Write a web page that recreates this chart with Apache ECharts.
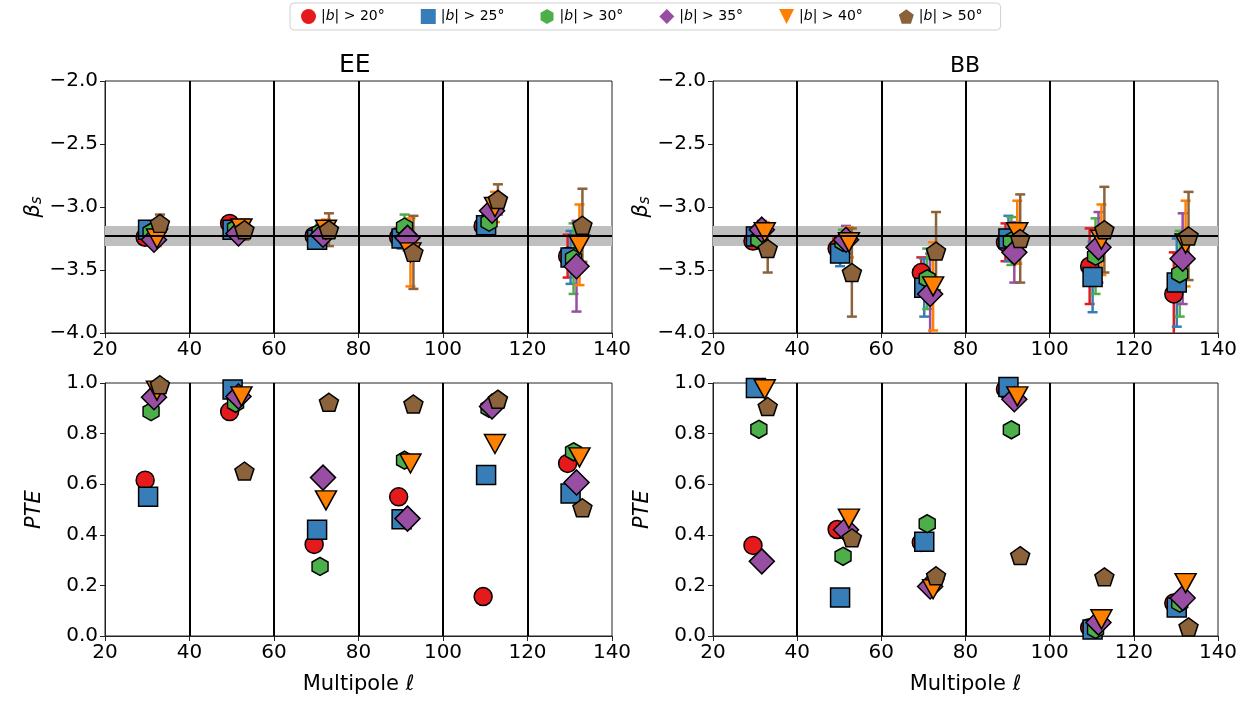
<!DOCTYPE html>
<html>
<head>
<meta charset="utf-8">
<title>beta_s and PTE per multipole bin</title>
<script src="https://cdn.jsdelivr.net/npm/echarts@6/dist/echarts.min.js"></script>
<style>
  html, body { margin: 0; padding: 0; background: #fff; }
  #chart { width: 1252px; height: 702px; }
</style>
</head>
<body>
<div id="chart"></div>
<script>
// latitude cuts, one series each
var cutNames = ['|b| > 20°', '|b| > 25°', '|b| > 30°', '|b| > 35°', '|b| > 40°', '|b| > 50°'];

// multipole bins and the small shift of each cut inside a bin
var ellBins = [29.5, 49.5, 69.5, 89.5, 109.5, 129.5];
var ellShift = [0, 0.7, 1.4, 2.1, 2.8, 3.5];
var binEdges = [40, 60, 80, 100, 120];

// reference spectral index and its band
var betaRef = -3.23;
var betaBand = [-3.31, -3.15];

// EE: beta_s (rows = cuts, columns = bins)
var betaEE = [
  [-3.24, -3.13, -3.23, -3.24, -3.15, -3.39],
  [-3.18, -3.18, -3.26, -3.25, -3.145, -3.40],
  [-3.20, -3.17, -3.20, -3.16, -3.12, -3.41],
  [-3.26, -3.21, -3.22, -3.245, -3.03, -3.47],
  [-3.25, -3.17, -3.18, -3.36, -3.00, -3.30],
  [-3.13, -3.18, -3.18, -3.36, -2.94, -3.145]
];
var betaEEerr = [
  [0.04, 0.04, 0.05, 0.07, 0.07, 0.17],
  [0.04, 0.04, 0.05, 0.08, 0.08, 0.21],
  [0.05, 0.05, 0.06, 0.10, 0.08, 0.28],
  [0.05, 0.05, 0.07, 0.10, 0.10, 0.36],
  [0.06, 0.06, 0.08, 0.27, 0.12, 0.32],
  [0.07, 0.08, 0.13, 0.29, 0.12, 0.29]
];
var pteEE = [
  [0.616, 0.887, 0.362, 0.55, 0.156, 0.682],
  [0.55, 0.974, 0.42, 0.461, 0.636, 0.563],
  [0.887, 0.92, 0.275, 0.695, 0.90, 0.728],
  [0.944, 0.947, 0.626, 0.464, 0.907, 0.607],
  [0.97, 0.947, 0.536, 0.682, 0.759, 0.706],
  [0.993, 0.652, 0.924, 0.917, 0.936, 0.507]
];

// BB
var betaBB = [
  [-3.27, -3.33, -3.52, -3.28, -3.47, -3.69],
  [-3.235, -3.37, -3.64, -3.25, -3.555, -3.60],
  [-3.26, -3.28, -3.57, -3.27, -3.39, -3.53],
  [-3.18, -3.26, -3.69, -3.36, -3.32, -3.41],
  [-3.20, -3.28, -3.63, -3.20, -3.26, -3.29],
  [-3.33, -3.52, -3.35, -3.25, -3.18, -3.23]
];
var betaBBerr = [
  [0.05, 0.08, 0.12, 0.15, 0.30, 0.33],
  [0.06, 0.10, 0.23, 0.18, 0.28, 0.35],
  [0.07, 0.10, 0.24, 0.19, 0.30, 0.34],
  [0.07, 0.11, 0.32, 0.24, 0.28, 0.36],
  [0.08, 0.12, 0.35, 0.25, 0.28, 0.34],
  [0.19, 0.35, 0.31, 0.35, 0.34, 0.35]
];
var pteBB = [
  [0.358, 0.421, 0.37, 0.976, 0.033, 0.13],
  [0.98, 0.152, 0.373, 0.984, 0.026, 0.113],
  [0.817, 0.315, 0.444, 0.815, 0.026, 0.13],
  [0.295, 0.42, 0.196, 0.936, 0.053, 0.15],
  [0.975, 0.464, 0.185, 0.947, 0.066, 0.209],
  [0.907, 0.388, 0.238, 0.318, 0.234, 0.036]
];

// marker styles
var colors = ['#e41a1c', '#377eb8', '#4daf4a', '#984ea3', '#ff7f00', '#8b6239'];
var hexagon = 'path://M0,-1L0.866,-0.5L0.866,0.5L0,1L-0.866,0.5L-0.866,-0.5Z';
var pentagon = 'path://M0,-1L0.951,-0.309L0.588,0.809L-0.588,0.809L-0.951,-0.309Z';
var triDown = 'path://M-1,-1L1,-1L0,1Z';
var symbols = ['circle', 'rect', hexagon, 'diamond', triDown, pentagon];
var symbolSizes = [18, 19, [16, 18], 25, [21, 19], [19, 18]];

var font = 'DejaVu Sans';
var chart = echarts.init(document.getElementById('chart'));

var grids = [
  {left: 105, top: 81, width: 507, height: 252},
  {left: 105, top: 383, width: 507, height: 253},
  {left: 713, top: 81, width: 505, height: 252},
  {left: 713, top: 383, width: 505, height: 253}
];
grids.forEach(function (g) {
  g.show = true;
  g.borderColor = '#222';
  g.borderWidth = 1;
  g.backgroundColor = '#fff';
});

function minus(v, d) {
  return (v < 0 ? '\u2212' : '') + Math.abs(v).toFixed(d);
}

function makeX(i, bottom) {
  return {
    type: 'value', gridIndex: i, min: 20, max: 140, interval: 20,
    name: bottom ? 'Multipole ℓ' : '',
    nameLocation: 'middle', nameGap: 38,
    nameTextStyle: {fontFamily: font, fontSize: 21, color: '#000'},
    axisLine: {show: true, onZero: false, lineStyle: {color: '#222', width: 1}},
    axisTick: {show: true, inside: false, length: 5, lineStyle: {color: '#222'}},
    axisLabel: {fontFamily: font, fontSize: 20, color: '#000', margin: 7},
    splitLine: {show: false}
  };
}

function makeY(i, top) {
  return {
    type: 'value', gridIndex: i,
    min: top ? -4 : 0, max: top ? -2 : 1, interval: top ? 0.5 : 0.2,
    name: top ? '{b|β}{s|s}' : 'PTE',
    nameLocation: 'middle', nameGap: 60, nameRotate: 90,
    nameTextStyle: {
      fontFamily: font, fontSize: 21, color: '#000', fontStyle: 'italic',
      rich: {
        b: {fontFamily: font, fontSize: 21, fontStyle: 'italic', color: '#000'},
        s: {fontFamily: font, fontSize: 15, fontStyle: 'italic', color: '#000', padding: [8, 0, 0, 0]}
      }
    },
    axisLine: {show: true, onZero: false, lineStyle: {color: '#222', width: 1}},
    axisTick: {show: true, inside: false, length: 5, lineStyle: {color: '#222'}},
    axisLabel: {
      fontFamily: font, fontSize: 20, color: '#000', margin: 7,
      formatter: function (v) { return minus(v, 1); }
    },
    splitLine: {show: false}
  };
}

var xAxes = [makeX(0, false), makeX(1, true), makeX(2, false), makeX(3, true)];
var yAxes = [makeY(0, true), makeY(1, false), makeY(2, true), makeY(3, false)];

var series = [];

// bin edges, reference line and band
[0, 1, 2, 3].forEach(function (i) {
  var top = (i === 0 || i === 2);
  var lines = binEdges.map(function (e) { return {xAxis: e}; });
  if (top) lines.push({yAxis: betaRef});
  var s = {
    type: 'line', xAxisIndex: i, yAxisIndex: i, data: [], z: 1, silent: true,
    markLine: {
      silent: true, symbol: 'none', animation: false,
      label: {show: false},
      lineStyle: {color: '#000', width: 2, type: 'solid'},
      data: lines
    }
  };
  if (top) {
    s.markArea = {
      silent: true,
      itemStyle: {color: '#bfbfbf'},
      data: [[{yAxis: betaBand[0]}, {yAxis: betaBand[1]}]]
    };
  }
  series.push(s);
});

function errSeries(i, k, vals, errs, color) {
  return {
    type: 'custom', xAxisIndex: i, yAxisIndex: i, z: 2, clip: true, silent: true,
    name: 'err' + k,
    encode: {x: 0, y: 1},
    data: ellBins.map(function (l, j) { return [l + ellShift[k], vals[j], errs[j]]; }),
    renderItem: function (params, api) {
      var x = api.value(0), y = api.value(1), e = api.value(2);
      var a = api.coord([x, y + e]);
      var b = api.coord([x, y - e]);
      var st = {stroke: color, lineWidth: 2.5};
      return {
        type: 'group',
        children: [
          {type: 'line', shape: {x1: a[0], y1: a[1], x2: b[0], y2: b[1]}, style: st},
          {type: 'line', shape: {x1: a[0] - 5, y1: a[1], x2: a[0] + 5, y2: a[1]}, style: st},
          {type: 'line', shape: {x1: b[0] - 5, y1: b[1], x2: b[0] + 5, y2: b[1]}, style: st}
        ]
      };
    }
  };
}

function dotSeries(i, k, vals) {
  return {
    type: 'scatter', xAxisIndex: i, yAxisIndex: i, z: 2, clip: true,
    name: cutNames[k],
    symbol: symbols[k], symbolSize: symbolSizes[k],
    itemStyle: {color: colors[k], borderColor: '#000', borderWidth: 1.5, opacity: 1},
    data: ellBins.map(function (l, j) { return [l + ellShift[k], vals[j]]; })
  };
}

var panels = [
  {i: 0, vals: betaEE, errs: betaEEerr},
  {i: 1, vals: pteEE, errs: null},
  {i: 2, vals: betaBB, errs: betaBBerr},
  {i: 3, vals: pteBB, errs: null}
];
panels.forEach(function (p) {
  for (var k = 0; k < cutNames.length; k++) {
    if (p.errs) series.push(errSeries(p.i, k, p.vals[k], p.errs[k], colors[k]));
    series.push(dotSeries(p.i, k, p.vals[k]));
  }
});

var option = {
  animation: false,
  backgroundColor: '#fff',
  textStyle: {fontFamily: font},
  grid: grids,
  xAxis: xAxes,
  yAxis: yAxes,
  legend: {
    data: cutNames.map(function (n, k) { return {name: n, icon: symbols[k]}; }),
    left: 290, top: 3,
    padding: [6, 18, 6, 11],
    itemWidth: 15, itemHeight: 15, itemGap: 36,
    borderColor: '#d0d0d0', borderWidth: 1, borderRadius: 4,
    backgroundColor: '#fff',
    itemStyle: {borderWidth: 0},
    selectedMode: false,
    formatter: function (name) { return name.replace('b', '{i|b}'); },
    textStyle: {
      fontFamily: font, fontSize: 14, color: '#000',
      rich: {i: {fontFamily: font, fontSize: 14, fontStyle: 'italic', color: '#000'}}
    }
  },
  graphic: [
    {type: 'text', left: 339, top: 53, style: {text: 'EE', font: '25px "DejaVu Sans"', fill: '#000'}},
    {type: 'text', left: 950, top: 55, style: {text: 'BB', font: '22px "DejaVu Sans"', fill: '#000'}}
  ],
  series: series
};

chart.setOption(option);
</script>
</body>
</html>
